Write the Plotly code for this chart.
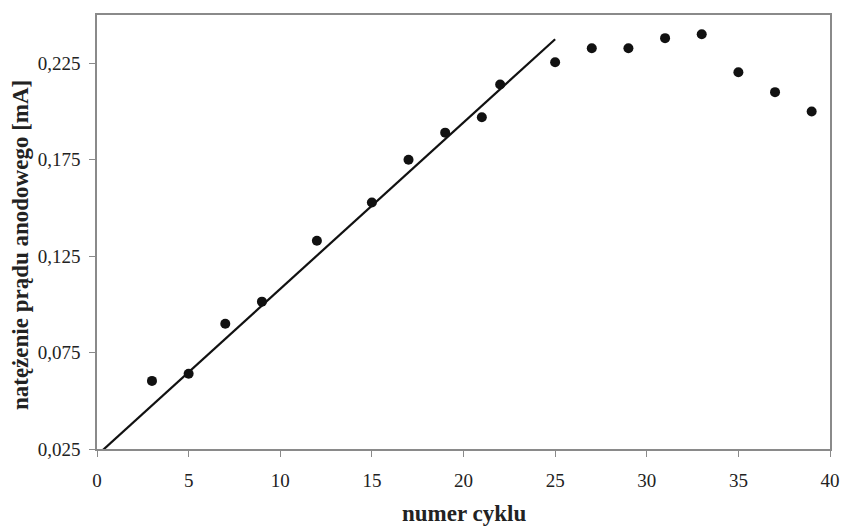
import plotly.graph_objects as go

# Data
cycle = [3, 5, 7, 9, 12, 15, 17, 19, 21, 22, 25, 27, 29, 31, 33, 35, 37, 39]
current = [0.0603, 0.0640, 0.0899, 0.1014, 0.1330, 0.1528, 0.1750, 0.1890,
           0.1970, 0.2140, 0.2255, 0.2328, 0.2328, 0.2380, 0.2400, 0.2203,
           0.2100, 0.2000]
trend_slope = 0.00863
trend_intercept = 0.0217
trend_x = [0, 25]
trend_y = [trend_intercept + trend_slope * x for x in trend_x]

x_ticks = [0, 5, 10, 15, 20, 25, 30, 35, 40]
y_ticks = [0.025, 0.075, 0.125, 0.175, 0.225]
y_labels = ["0,025", "0,075", "0,125", "0,175", "0,225"]
x_title = "numer cyklu"
y_title = "natężenie prądu anodowego [mA]"

font_family = "Liberation Serif, Times New Roman, serif"

fig = go.Figure()
fig.add_trace(go.Scatter(x=trend_x, y=trend_y, mode="lines",
                         line=dict(color="#111111", width=2.2),
                         showlegend=False, hoverinfo="skip"))
fig.add_trace(go.Scatter(x=cycle, y=current, mode="markers",
                         marker=dict(color="#111111", size=10),
                         showlegend=False))

axis_common = dict(showgrid=False, zeroline=False, showline=True,
                   linecolor="#8a8a8a", linewidth=1.5, mirror=True,
                   ticks="outside", tickcolor="#8a8a8a", tickwidth=1.2,
                   ticklen=6, automargin=False,
                   tickfont=dict(family=font_family, size=19, color="#222222"))

fig.update_xaxes(range=[0, 40], tickvals=x_ticks, ticktext=[str(v) for v in x_ticks],
                 ticklabelstandoff=7, **axis_common)
fig.update_yaxes(range=[0.025, 0.25], tickvals=y_ticks, ticktext=y_labels,
                 ticklabelstandoff=5, **axis_common)

title_font = dict(family=font_family, size=23, color="#222222")
fig.add_annotation(text=f"<b>{x_title}</b>", xref="paper", yref="paper",
                   x=0.5, y=-0.149, xanchor="center", yanchor="middle",
                   showarrow=False, font=title_font)
fig.add_annotation(text=f"<b>{y_title}</b>", xref="paper", yref="paper",
                   x=-0.105, y=0.47, xanchor="center", yanchor="middle",
                   textangle=-90, showarrow=False, font=title_font)

fig.update_layout(width=842, height=527, plot_bgcolor="white", paper_bgcolor="white",
                  margin=dict(l=97, r=12, t=15, b=78))

fig.write_html("out.html")
